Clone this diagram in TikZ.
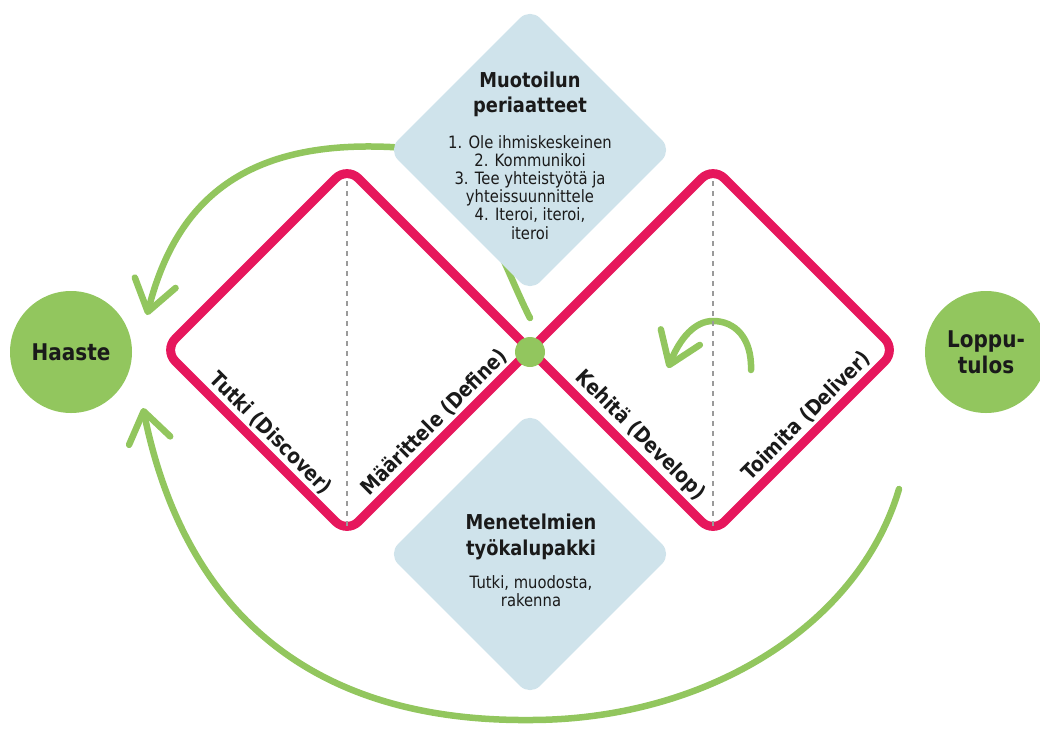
\documentclass[tikz,border=0pt]{standalone}
\usepackage{fontspec}
\setmainfont{DejaVu Sans}[FakeStretch=0.87]
\usetikzlibrary{arrows.meta,shapes.geometric}

\definecolor{ddpink}{HTML}{E6175C}
\definecolor{ddgreen}{HTML}{92C65E}
\definecolor{ddblue}{HTML}{CFE3EB}
\definecolor{ddgray}{HTML}{9A9A9A}
\definecolor{ddtext}{HTML}{1A1A1A}

\tikzset{
  pinkline/.style={draw=ddpink, line width=9pt, rounded corners=16pt, line join=round},
  guide/.style={draw=ddgray, line width=2.2pt, dash pattern=on 5pt off 5pt},
  bluebox/.style={diamond, aspect=1, fill=ddblue, rounded corners=14pt, inner sep=0pt,
                  minimum width=284pt, minimum height=284pt},
  ball/.style={circle, fill=ddgreen, inner sep=0pt, minimum size=122pt,
               font=\fontsize{23}{26}\selectfont\bfseries, text=ddtext, align=center},
  hub/.style={circle, fill=ddgreen, minimum size=30pt, inner sep=0pt},
  flow/.style={draw=ddgreen, line width=6.5pt, line cap=round,
               -{Straight Barb[length=30pt, width=42pt, round]}},
  phase/.style={font=\fontsize{21}{24}\selectfont\bfseries, text=ddtext, sloped,
                above=7pt, inner sep=0pt},
  head/.style={font=\fontsize{20.5}{24}\selectfont\bfseries, text=ddtext, anchor=base, inner sep=0pt},
  body/.style={font=\fontsize{17}{18}\selectfont, text=ddtext, anchor=base, inner sep=0pt},
}

\begin{document}
\begin{tikzpicture}[x=1pt, y=-1pt]
\useasboundingbox (0,0) rectangle (1040,728);

% corner points of the double diamond
\coordinate (X)  at (530,350);
\coordinate (T1) at (347,167);
\coordinate (L1) at (164,350);
\coordinate (B1) at (347,533);
\coordinate (T2) at (713,167);
\coordinate (R2) at (896,350);
\coordinate (B2) at (713,533);

% free ends of the green arrows
\coordinate (a1s) at (530,318);
\coordinate (a1e) at (147,315);
\coordinate (a2s) at (899,489);
\coordinate (a2e) at (143,408);
\coordinate (a3s) at (751,370);
\coordinate (a3e) at (668,368);

% green feedback arrows
\draw[flow] (a1s) .. controls (500,260) and (470,150) .. (390,147)
                  .. controls (240,140) and (175,205) .. (a1e);
\draw[flow] (a2s) .. controls (859,625) and (707,720) .. (530,720)
                  .. controls (290,722) and (180,590) .. (a2e);
\draw[flow] (a3s) .. controls (752,338) and (735,321) .. (713,321)
                  .. controls (695,321) and (680,338) .. (a3e);

% blue info diamonds
\node[bluebox] (principles) at (530,150) {};
\node[bluebox] (toolkit) at (530,554) {};

% the double diamond outline
\draw[pinkline] (X) -- (T2) -- (R2) -- (B2) -- (T1) -- (L1) -- (B1) -- cycle;

% dashed mid lines
\draw[guide, shorten <=14pt, shorten >=6pt] (T1) -- (B1);
\draw[guide, shorten <=14pt, shorten >=6pt] (T2) -- (B2);

% centre point
\node[hub] (hub) at (530,352) {};

% start and end
\node[ball] (start) at (71,352) {Haaste};
\node[ball] (finish) at (986,352) {Loppu-\\tulos};

% phase labels along the edges
\path (L1) -- node[phase, pos=.52] (discover) {Tutki (Discover)} (B1);
\path (B1) -- node[phase, pos=.54] (define) {Määrittele (Define)} (X);
\path (X) -- node[phase, pos=.535] (develop) {Kehitä (Develop)} (B2);
\path (B2) -- node[phase, pos=.575] (deliver) {Toimita (Deliver)} (R2);

% texts of the upper diamond
\node[head] (ph1) at (530,87) {Muotoilun};
\node[head] (ph2) at (530,112) {periaatteet};
\foreach \t [count=\i] in {1. Ole ihmiskeskeinen, 2. Kommunikoi, 3. Tee yhteistyötä ja,
                          yhteissuunnittele, {4. Iteroi, iteroi,}, iteroi}
  \node[body] (pl\i) at (530,{148+18.2*(\i-1)}) {\t};

% texts of the lower diamond
\node[head] (th1) at (531,529) {Menetelmien};
\node[head] (th2) at (531,555) {työkalupakki};
\node[body] (tl1) at (531,588) {Tutki, muodosta,};
\node[body] (tl2) at (531,606) {rakenna};
\end{tikzpicture}
\end{document}
